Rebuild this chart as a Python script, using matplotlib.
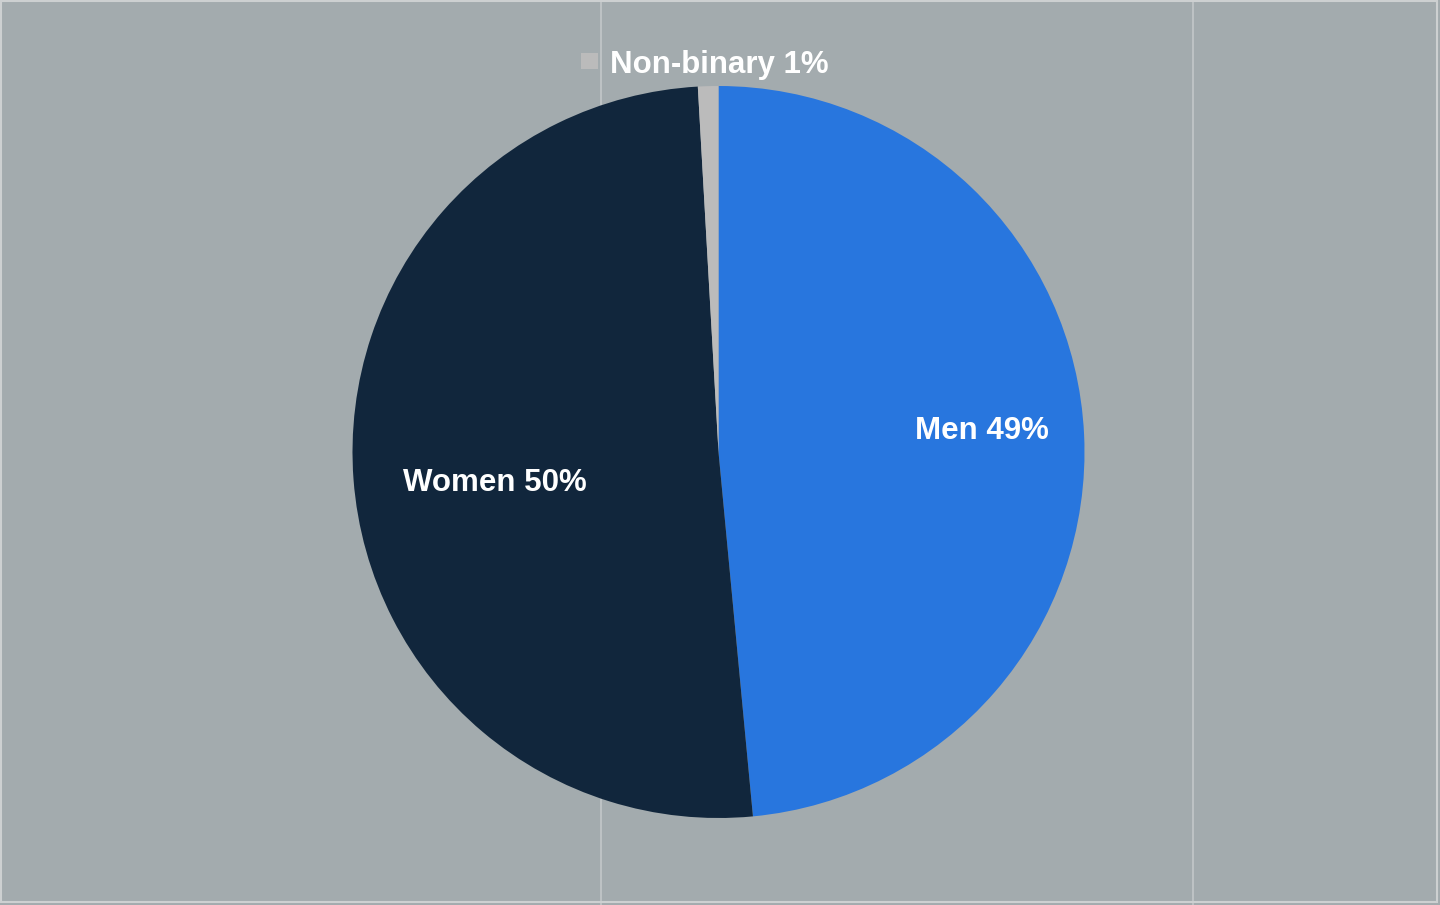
import matplotlib
matplotlib.use("Agg")
import matplotlib.pyplot as plt
from matplotlib.patches import Rectangle

categories = ["Men", "Women", "Non-binary"]
shares = [48.5, 50.6, 0.9]
labels = ["Men 49%", "Women 50%", "Non-binary 1%"]
colors = ["#2876de", "#11263c", "#bbbbbb"]

W, H = 1440, 905
fig = plt.figure(figsize=(W / 100, H / 100), dpi=100)
fig.patch.set_facecolor("#a3abae")
ax = fig.add_axes([0, 0, 1, 1])
ax.set_facecolor("#a3abae")

# vertical column lines
for x in (601, 1193):
    ax.axvline(x, color="#c3c7c9", lw=1.2, zorder=0)
# outer border
ax.add_patch(Rectangle((1, 2.5), 1436, 901, fill=False, ec="#cdd0d1", lw=1.5, zorder=0))

cx, cy, r = 718.5, H - 452, 366
wedges, _ = ax.pie(shares, colors=colors, startangle=90, counterclock=False,
                   center=(cx, cy), radius=r, frame=True,
                   wedgeprops=dict(linewidth=0))
ax.set_xlim(0, W)
ax.set_ylim(0, H)
ax.axis("off")

fp = dict(family=["Liberation Sans", "DejaVu Sans"], weight="bold", fontsize=22.5, color="white")
ax.text(982, H - 431, labels[0], ha="center", va="center", **fp)
ax.text(495, H - 483, labels[1], ha="center", va="center", **fp)
ax.add_patch(Rectangle((581, H - 69.5), 17, 16, color=colors[2], lw=0))
ax.text(610, H - 65, labels[2], ha="left", va="center", **fp)

fig.savefig("out.png", dpi=100, facecolor=fig.get_facecolor())
